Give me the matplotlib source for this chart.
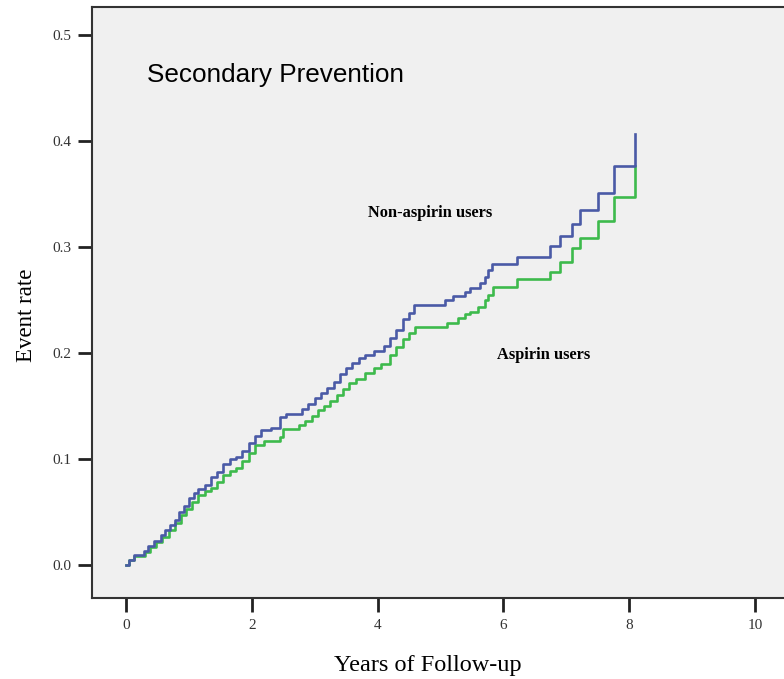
import matplotlib
matplotlib.use("Agg")
import matplotlib.pyplot as plt

# Non-aspirin users (blue) cumulative event rate, step changes
non_t = [0, 0.05, 0.12, 0.28, 0.35, 0.45, 0.55, 0.62, 0.7, 0.78, 0.85, 0.92, 1.0, 1.08, 1.15,
         1.25, 1.35, 1.45, 1.55, 1.65, 1.75, 1.85, 1.95, 2.05, 2.15, 2.3, 2.45, 2.55, 2.8, 2.9,
         3.0, 3.1, 3.2, 3.3, 3.4, 3.5, 3.6, 3.7, 3.8, 3.95, 4.1, 4.2, 4.3, 4.4, 4.5, 4.58, 5.07,
         5.2, 5.39, 5.47, 5.63, 5.71, 5.76, 5.82, 6.22, 6.74, 6.9, 7.09, 7.22, 7.5, 7.76, 8.09]
non_v = [0, 0.005, 0.010, 0.013, 0.018, 0.023, 0.028, 0.033, 0.038, 0.043, 0.050, 0.056, 0.063,
         0.068, 0.072, 0.076, 0.083, 0.088, 0.095, 0.100, 0.102, 0.108, 0.115, 0.122, 0.127,
         0.129, 0.140, 0.143, 0.147, 0.152, 0.158, 0.162, 0.167, 0.173, 0.180, 0.186, 0.191,
         0.195, 0.198, 0.202, 0.207, 0.214, 0.222, 0.232, 0.238, 0.245, 0.250, 0.254, 0.258,
         0.261, 0.266, 0.272, 0.278, 0.284, 0.291, 0.301, 0.310, 0.322, 0.335, 0.351, 0.376, 0.407]

# Aspirin users (green)
asp_t = [0, 0.05, 0.12, 0.3, 0.38, 0.48, 0.58, 0.68, 0.78, 0.88, 0.95, 1.05, 1.15, 1.25, 1.35,
         1.45, 1.55, 1.65, 1.75, 1.85, 1.95, 2.05, 2.2, 2.45, 2.5, 2.75, 2.85, 2.95, 3.05, 3.15,
         3.25, 3.35, 3.45, 3.55, 3.65, 3.8, 3.95, 4.05, 4.2, 4.3, 4.4, 4.5, 4.6, 5.1, 5.28, 5.39,
         5.47, 5.6, 5.71, 5.76, 5.84, 6.22, 6.74, 6.9, 7.09, 7.22, 7.5, 7.76, 8.09]
asp_v = [0, 0.005, 0.009, 0.012, 0.017, 0.022, 0.027, 0.033, 0.040, 0.047, 0.053, 0.060, 0.066,
         0.070, 0.073, 0.078, 0.085, 0.089, 0.092, 0.098, 0.106, 0.113, 0.117, 0.121, 0.128,
         0.132, 0.136, 0.141, 0.146, 0.150, 0.155, 0.160, 0.166, 0.172, 0.176, 0.181, 0.186,
         0.190, 0.198, 0.206, 0.213, 0.219, 0.225, 0.228, 0.233, 0.237, 0.239, 0.243, 0.250,
         0.255, 0.262, 0.270, 0.276, 0.286, 0.299, 0.309, 0.325, 0.347, 0.376]

x_ticks = [0, 2, 4, 6, 8, 10]
y_ticks = [0.0, 0.1, 0.2, 0.3, 0.4, 0.5]

fig = plt.figure(figsize=(7.84, 6.79), dpi=100)
ax = fig.add_axes([92 / 784, 1 - 598 / 679, 1 - 92 / 784, (598 - 7) / 679])
ax.set_facecolor("#f0f0f0")

ax.step(asp_t, asp_v, where="post", color="#3dba4c", lw=1.9, zorder=2)
ax.step(non_t, non_v, where="post", color="#4a5aa6", lw=1.9, zorder=3)

ax.set_xlim(-0.54, 10.46)
ax.set_ylim(-0.031, 0.5264)
ax.set_xticks(x_ticks)
ax.set_xticklabels([str(t) for t in x_ticks])
ax.set_yticks(y_ticks)
ax.set_yticklabels([f"{t:.1f}" for t in y_ticks])

for s in ["left", "bottom", "top"]:
    ax.spines[s].set_color("#333333")
    ax.spines[s].set_linewidth(1.5)
ax.spines["right"].set_visible(False)

ax.tick_params(axis="both", direction="out", length=10, width=2, color="#222222",
               labelsize=11, labelcolor="#333333", pad=5)
for lab in ax.get_xticklabels() + ax.get_yticklabels():
    lab.set_family("Liberation Serif")

ax.set_ylabel("Event rate", family="Liberation Serif", fontsize=16.5)
ax.yaxis.set_label_coords(-0.08, 0.479)
ax.set_xlabel("Years of Follow-up", family="Liberation Serif", fontsize=17.5)
ax.xaxis.set_label_coords(0.486, -0.097)

ax.text(0.33, 0.462, "Secondary Prevention", family="Liberation Sans", fontsize=18.8,
        va="center", ha="left")
ax.text(3.85, 0.332, "Non-aspirin users", family="Liberation Serif", fontweight="bold",
        fontsize=11.8, va="center", ha="left")
ax.text(5.9, 0.198, "Aspirin users", family="Liberation Serif", fontweight="bold",
        fontsize=11.8, va="center", ha="left")

fig.savefig("out.png", dpi=100)
